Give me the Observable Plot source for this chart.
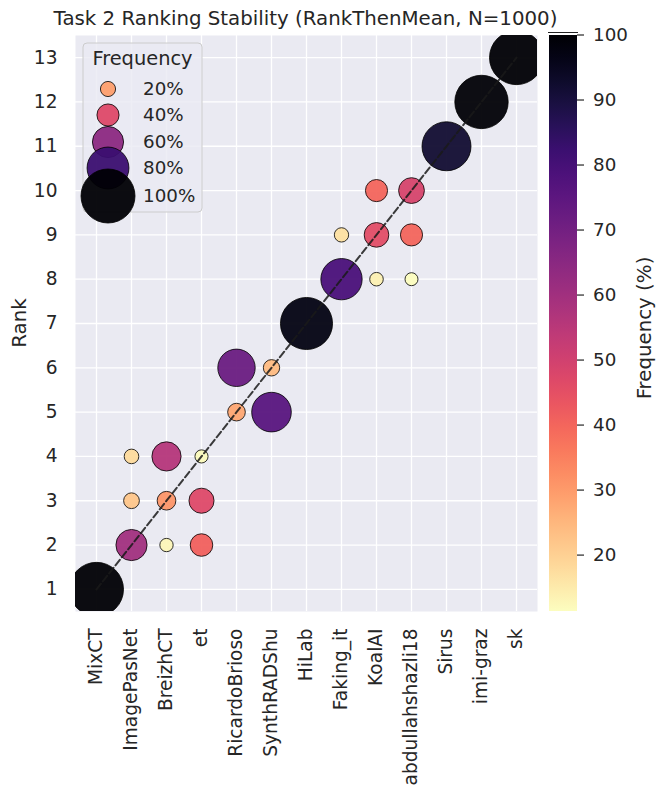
<!DOCTYPE html>
<html><head><meta charset="utf-8">
<script src="https://cdn.jsdelivr.net/npm/d3@7"></script>
<script src="https://cdn.jsdelivr.net/npm/@observablehq/plot@0.6"></script>
<style>
body{margin:0;background:#fff;font-family:"DejaVu Sans",sans-serif}
#wrap{position:relative;width:656px;height:786px;overflow:hidden}
</style>
</head><body><div id="wrap"></div>
<script>
const participants = ["MixCT","ImagePasNet","BreizhCT","et","RicardoBrioso","SynthRADShu","HiLab","Faking_it","KoalAI","abdullahshazli18","Sirus","imi-graz","sk"];
const rankTicks = [1,2,3,4,5,6,7,8,9,10,11,12,13];
const pointParticipant = ["MixCT","ImagePasNet","ImagePasNet","ImagePasNet","BreizhCT","BreizhCT","BreizhCT","et","et","et","RicardoBrioso","RicardoBrioso","SynthRADShu","SynthRADShu","HiLab","Faking_it","Faking_it","KoalAI","KoalAI","KoalAI","abdullahshazli18","abdullahshazli18","abdullahshazli18","Sirus","imi-graz","sk"];
const pointRank = [1,2,3,4,2,3,4,2,3,4,5,6,5,6,7,8,9,8,9,10,8,9,10,11,12,13];
const pointFrequency = [100,60,22,18,13,31,56,41,47,12,28,72,76,24,97,79,17,14,46,40,11.4,40,48.6,92,99,100];
const legendValues = [20,40,60,80,100];
const colorbarTicks = [20,30,40,50,60,70,80,90,100];

const points = pointParticipant.map((p,i)=>({participant:p, rank:pointRank[i], freq:pointFrequency[i]}));
const diagonal = participants.map((p,i)=>({participant:p, rank:rankTicks[i]}));
const fmin = d3.min(pointFrequency), fmax = d3.max(pointFrequency);

const ink = "#262626";
const plot = Plot.plot({
  width:656, height:786,
  marginLeft:75, marginRight:119, marginTop:35, marginBottom:175,
  style:{fontFamily:"DejaVu Sans", fontSize:"18.6px", color:ink, background:"white", overflow:"visible"},
  x:{type:"point", domain:participants, padding:0.57, label:null},
  y:{domain:[0.5,13.5], label:null},
  r:{type:"pow", exponent:1.5, domain:[fmin,fmax], range:[6.5,27]},
  color:{type:"linear", scheme:"magma", reverse:true, domain:[fmin,fmax]},
  marks:[
    Plot.frame({fill:"#eaeaf2"}),
    Plot.gridX({stroke:"white", strokeOpacity:1, strokeWidth:1.3}),
    Plot.gridY(rankTicks,{stroke:"white", strokeOpacity:1, strokeWidth:1.3}),
    Plot.axisX({tickRotate:-90, tickSize:0, tickPadding:17, label:null, fill:ink, fontSize:18.6}),
    Plot.axisY(rankTicks,{tickSize:0, tickPadding:18, label:null, fill:ink, fontSize:18.6}),
    Plot.dot(points,{x:"participant", y:"rank", r:"freq", fill:"freq", fillOpacity:0.95, stroke:"black", strokeWidth:0.8, clip:true}),
    Plot.line(diagonal,{x:"participant", y:"rank", stroke:"#1a1a1a", strokeOpacity:0.85, strokeWidth:2, strokeDasharray:"7,3.2"})
  ]
});
document.getElementById("wrap").appendChild(plot);

const svg = d3.select(plot);
const color = plot.scale("color"), rs = plot.scale("r");
// seaborn's size legend colours its markers on a 0–100 hue normalisation
const legendColor = d3.scaleSequential(t => d3.interpolateMagma(1 - t)).domain([0, 100]);

// title
svg.append("text").attr("x",305.5).attr("y",25).attr("text-anchor","middle")
  .attr("font-size","19.8px").attr("fill",ink).text("Task 2 Ranking Stability (RankThenMean, N=1000)");
// y label
svg.append("text").attr("transform","translate(26,323) rotate(-90)").attr("text-anchor","middle")
  .attr("font-size","19.8px").attr("fill",ink).text("Rank");

// legend
const lg = svg.append("g");
lg.append("rect").attr("x",83).attr("y",43).attr("width",119).attr("height",169).attr("rx",4)
  .attr("fill","#eaeaf2").attr("fill-opacity",0.8).attr("stroke","#cccccc").attr("stroke-width",1);
lg.append("text").attr("x",142.5).attr("y",65).attr("text-anchor","middle").attr("font-size","19.4px").attr("fill",ink).text("Frequency");
const entryY = [89,115,142,168,196];
legendValues.forEach((v,i)=>{
  lg.append("circle").attr("cx",108).attr("cy",entryY[i]).attr("r",rs.apply(v))
    .attr("fill",legendColor(v)).attr("fill-opacity",0.95).attr("stroke","black").attr("stroke-width",0.8);
  lg.append("text").attr("x",143).attr("y",entryY[i]).attr("dy","0.35em").attr("text-anchor","start")
    .attr("font-size","18.3px").attr("fill",ink).text(v+"%");
});

// colorbar
const cbX = 549, cbW = 28, cbTop = 35, cbBot = 611;
const cy = d3.scaleLinear().domain([fmin,fmax]).range([cbBot,cbTop]);
const defs = svg.append("defs");
const grad = defs.append("linearGradient").attr("id","cbgrad").attr("x1",0).attr("y1",1).attr("x2",0).attr("y2",0);
d3.range(0,1.0001,0.04).forEach(t=>{
  grad.append("stop").attr("offset",t).attr("stop-color",color.apply(fmin+t*(fmax-fmin)));
});
svg.append("rect").attr("x",cbX).attr("y",cbTop).attr("width",cbW).attr("height",cbBot-cbTop).attr("fill","url(#cbgrad)");
svg.append("line").attr("x1",cbX-1).attr("x2",cbX+cbW+1).attr("y1",32.5).attr("y2",32.5).attr("stroke","#222").attr("stroke-width",1);
colorbarTicks.forEach(v=>{
  const y = cy(v);
  svg.append("line").attr("x1",cbX+cbW).attr("x2",cbX+cbW+7).attr("y1",y).attr("y2",y).attr("stroke",ink).attr("stroke-width",1.2);
  svg.append("text").attr("x",cbX+cbW+16).attr("y",y).attr("dy","0.35em").attr("text-anchor","start")
    .attr("font-size","18.3px").attr("fill",ink).text(v);
});
svg.append("text").attr("transform","translate(651,328) rotate(-90)").attr("text-anchor","middle")
  .attr("font-size","19.8px").attr("fill",ink).text("Frequency (%)");
</script>
</body></html>
